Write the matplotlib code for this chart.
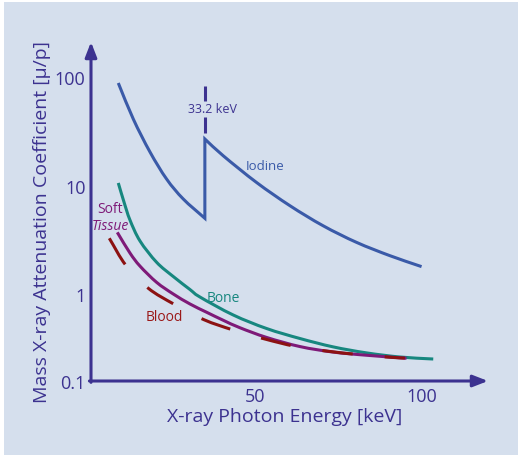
import numpy as np
import matplotlib
matplotlib.use("Agg")
import matplotlib.pyplot as plt
from matplotlib.patches import Rectangle, PathPatch
from matplotlib.path import Path

# values (energy in keV, mass attenuation coefficient)
iodine_low_e = [9.07, 13.56, 18.56, 23.56, 28.53, 35.0]
iodine_low_mu = [88.8, 41.3, 20.5, 11.5, 7.54, 5.0]
iodine_high_e = [35.0, 40.5, 50.5, 60.5, 70.4, 80.4, 90.4, 99.9]
iodine_high_mu = [27.0, 18.9, 10.7, 6.53, 4.27, 3.0, 2.26, 1.79]

bone_e = [9.07, 10.78, 12.57, 15.57, 20.57, 25.54, 30.54, 33.53, 43.5, 53.5, 63.5, 73.4, 83.4, 93.4, 103.4]
bone_mu = [10.6, 7.07, 4.82, 3.09, 1.96, 1.45, 1.10, 0.938, 0.640, 0.480, 0.388, 0.325, 0.286, 0.262, 0.251]

tissue_e = [8.77, 12.57, 15.57, 20.57, 25.54, 30.54, 35.54, 40.51, 45.51, 53.5, 63.5, 73.4, 83.4, 95.4]
tissue_mu = [3.71, 2.39, 1.81, 1.28, 1.0, 0.809, 0.678, 0.572, 0.488, 0.397, 0.327, 0.291, 0.272, 0.255]

blood_e = [6.38, 11.29, 18.05, 25.84, 34.73, 43.5, 52.99, 61.98, 71.95, 80.93, 90.93, 94.9]
blood_mu = [3.27, 1.85, 1.13, 0.803, 0.579, 0.465, 0.384, 0.329, 0.296, 0.276, 0.260, 0.256]

k_edge = 35.0
xticks = [50, 100]
ytick_labels = ['0.1', '1', '10', '100']

axis_col = '#3c3290'
bg = '#d5dfed'
W, H = 518, 456


def smooth_path(e, mu):
    # Catmull-Rom through the read points, drawn as cubic Bezier in (E, log mu)
    p = np.column_stack([e, np.log10(mu)])
    n = len(p)
    t = np.zeros_like(p)
    t[0] = p[1] - p[0]
    t[-1] = p[-1] - p[-2]
    t[1:-1] = (p[2:] - p[:-2]) / 2
    verts = [p[0]]
    codes = [Path.MOVETO]
    for i in range(n - 1):
        verts += [p[i] + t[i] / 3, p[i + 1] - t[i + 1] / 3, p[i + 1]]
        codes += [Path.CURVE4] * 3
    verts = np.array(verts)
    verts[:, 1] = 10 ** verts[:, 1]
    return verts, codes


def draw(ax, parts, **kw):
    verts, codes = [], []
    for e, mu in parts:
        v, c = smooth_path(e, mu)
        if codes:
            c = [Path.LINETO] + c[1:]
        verts += list(v)
        codes += c
    ax.add_patch(PathPatch(Path(verts, codes), facecolor='none', transform=ax.transData, **kw))


fig = plt.figure(figsize=(W / 100, H / 100), dpi=100, facecolor='white')
fig.patches.append(Rectangle((4 / W, 0), 1 - 4 / W, 1 - 3 / H, transform=fig.transFigure,
                             facecolor=bg, edgecolor='none', zorder=-10))
plt.rcParams['font.family'] = ['Open Sans', 'DejaVu Sans']

ax = fig.add_axes([91 / W, 1 - 382 / H, (488 - 91) / W, (382 - 43) / H])
ax.set_facecolor('none')
ax.set_yscale('log')
ybot = 10 ** (-87 / 108.3)
ax.set_xlim(0.9, 119.8)
ax.set_ylim(ybot, 10 ** (252 / 108.3))
for s in ax.spines.values():
    s.set_visible(False)

draw(ax, [(iodine_low_e, iodine_low_mu), (iodine_high_e, iodine_high_mu)],
     edgecolor='#3a5aa8', lw=2.2, joinstyle='miter')
draw(ax, [(bone_e, bone_mu)], edgecolor='#17877f', lw=2.2)
draw(ax, [(tissue_e, tissue_mu)], edgecolor='#7e1a78', lw=2.2)
draw(ax, [(blood_e, blood_mu)], edgecolor='#8c1212', lw=2.2, linestyle=(0, (10, 10.5)))

# k-edge marker
ax.plot([k_edge, k_edge], [61.0, 83.8], color=axis_col, lw=2.2, solid_capstyle='butt')
ax.plot([k_edge, k_edge], [30.7, 43.1], color=axis_col, lw=2.2, solid_capstyle='butt')
ax.text(37.4, 51.1, '33.2 keV', color=axis_col, fontsize=9, ha='center', va='center')

ax.text(53.0, 15.5, 'Iodine', color='#3a5aa8', fontsize=9.5, ha='center', va='center')
ax.text(40.5, 0.932, 'Bone', color='#17877f', fontsize=10, ha='center', va='center')
ax.text(22.75, 0.617, 'Blood', color='#9a1818', fontsize=10, ha='center', va='center')
ax.text(6.59, 6.18, 'Soft', color='#7e1a78', fontsize=10, ha='center', va='center')
ax.text(6.8, 4.27, 'Tissue', color='#7e1a78', fontsize=10, ha='center', va='center', style='italic')

# axes with arrow heads
arr = dict(arrowstyle='-|>,head_length=0.9,head_width=0.35', color=axis_col, lw=2.2,
           shrinkA=0, shrinkB=0)
ax.annotate('', xy=(0, 1), xytext=(0, -0.004), xycoords='axes fraction', arrowprops=arr)
ax.annotate('', xy=(1, 0), xytext=(-0.004, 0), xycoords='axes fraction', arrowprops=arr)

ax.set_xticks(xticks)
ax.set_xticklabels([str(t) for t in xticks])
ax.set_yticks([ybot, 1, 10, 100])
ax.set_yticklabels(ytick_labels)
ax.minorticks_off()
ax.tick_params(length=0, labelsize=13, labelcolor=axis_col)
ax.tick_params(axis='x', pad=4)
ax.tick_params(axis='y', pad=4)

fig.text(285 / W, 1 - 417 / H, 'X-ray Photon Energy [keV]', color=axis_col, fontsize=14,
         ha='center', va='center')
fig.text(42 / W, 1 - 222 / H, 'Mass X-ray Attenuation Coefficient [\u03bc/p]', color=axis_col,
         fontsize=14, ha='center', va='center', rotation=90)

fig.savefig('out.png', dpi=100, facecolor='white')
